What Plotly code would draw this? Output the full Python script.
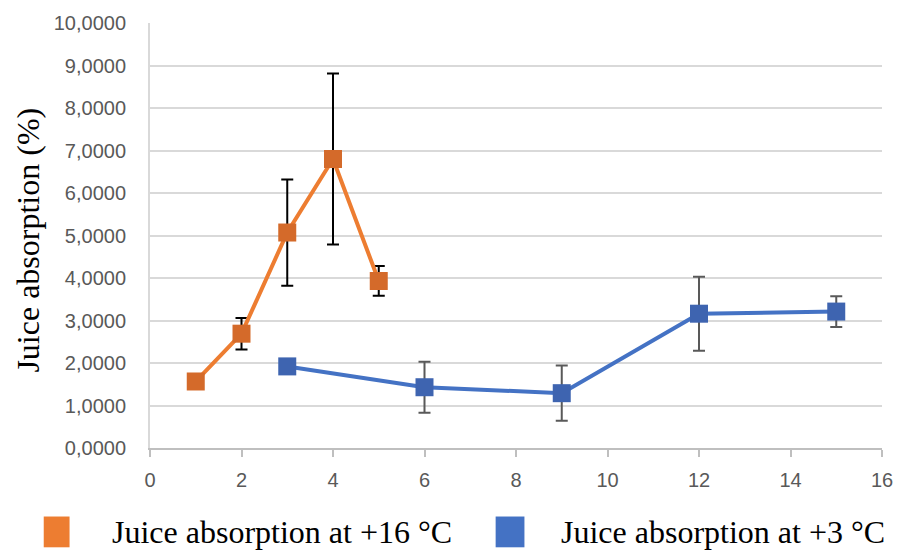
import plotly.graph_objects as go

# Data
x_16 = [1, 2, 3, 4, 5]
y_16 = [1.565, 2.69, 5.07, 6.80, 3.93]
err_16 = [0.0, 0.37, 1.25, 2.01, 0.35]

x_3 = [3, 6, 9, 12, 15]
y_3 = [1.92, 1.43, 1.29, 3.16, 3.21]
err_3 = [0.0, 0.60, 0.65, 0.87, 0.36]

name_16 = "Juice absorption at +16 °C"
name_3 = "Juice absorption at +3 °C"
y_title = "Juice absorption (%)"

x_ticks = list(range(0, 17, 2))
y_ticks = list(range(0, 11, 1))

ORANGE_LINE = "#ED7D31"
ORANGE_MARK = "#D46A2A"
BLUE_LINE = "#4472C4"
BLUE_MARK = "#3E64B0"

fig = go.Figure()
fig.add_trace(go.Scatter(
    x=x_16, y=y_16, mode="lines+markers", name=name_16, showlegend=False,
    line=dict(color=ORANGE_LINE, width=4),
    marker=dict(symbol="square", size=18, color=ORANGE_MARK),
    error_y=dict(type="data", array=err_16, visible=True, color="#000000",
                 thickness=2, width=6),
))
fig.add_trace(go.Scatter(
    x=x_3, y=y_3, mode="lines+markers", name=name_3, showlegend=False,
    line=dict(color=BLUE_LINE, width=4),
    marker=dict(symbol="square", size=18, color=BLUE_MARK),
    error_y=dict(type="data", array=err_3, visible=True, color="#595959",
                 thickness=2, width=6),
))

tick_font = dict(family="Liberation Sans, Arial, sans-serif", size=20, color="#595959")
serif = "Liberation Serif, Times New Roman, serif"

fig.update_layout(
    width=905, height=555,
    margin=dict(l=150, r=18, t=20, b=107),
    paper_bgcolor="white", plot_bgcolor="white",
    separators=", ",
    xaxis=dict(range=[0, 16], tickvals=x_ticks, showgrid=False, zeroline=False,
               showline=True, linecolor="#BFBFBF", linewidth=2,
               ticks="outside", ticklen=7, tickwidth=2, tickcolor="#BFBFBF",
               tickfont=tick_font, ticklabelstandoff=6),
    yaxis=dict(range=[0, 10], tickvals=y_ticks, tickformat=".4f",
               showgrid=True, gridcolor="#D9D9D9", gridwidth=2, zeroline=False,
               showline=True, linecolor="#D9D9D9", linewidth=2,
               ticks="", tickfont=tick_font, ticklabelstandoff=18),
    showlegend=False,
)

# y-axis title
fig.add_annotation(text=y_title, xref="paper", yref="paper",
                   x=(27 - 150) / 737, y=0.49, textangle=-90, showarrow=False,
                   xanchor="center", yanchor="middle",
                   font=dict(family=serif, size=32, color="#000000"))

# legend
legend_items = [(name_16, ORANGE_LINE, 43, 69, 110), (name_3, BLUE_LINE, 498, 527, 562)]
for label, col, px0, px1, tx in legend_items:
    fig.add_shape(type="rect", xref="paper", yref="paper",
                  x0=(px0 - 150) / 737, x1=(px1 - 150) / 737,
                  y0=(448 - 548) / 428, y1=(448 - 517) / 428,
                  fillcolor=col, line=dict(width=0))
    fig.add_annotation(text=label, xref="paper", yref="paper",
                       x=(tx - 150) / 737, y=(448 - 533) / 428,
                       xanchor="left", yanchor="middle", showarrow=False,
                       font=dict(family=serif, size=32, color="#000000"))

fig.write_html("out.html")
